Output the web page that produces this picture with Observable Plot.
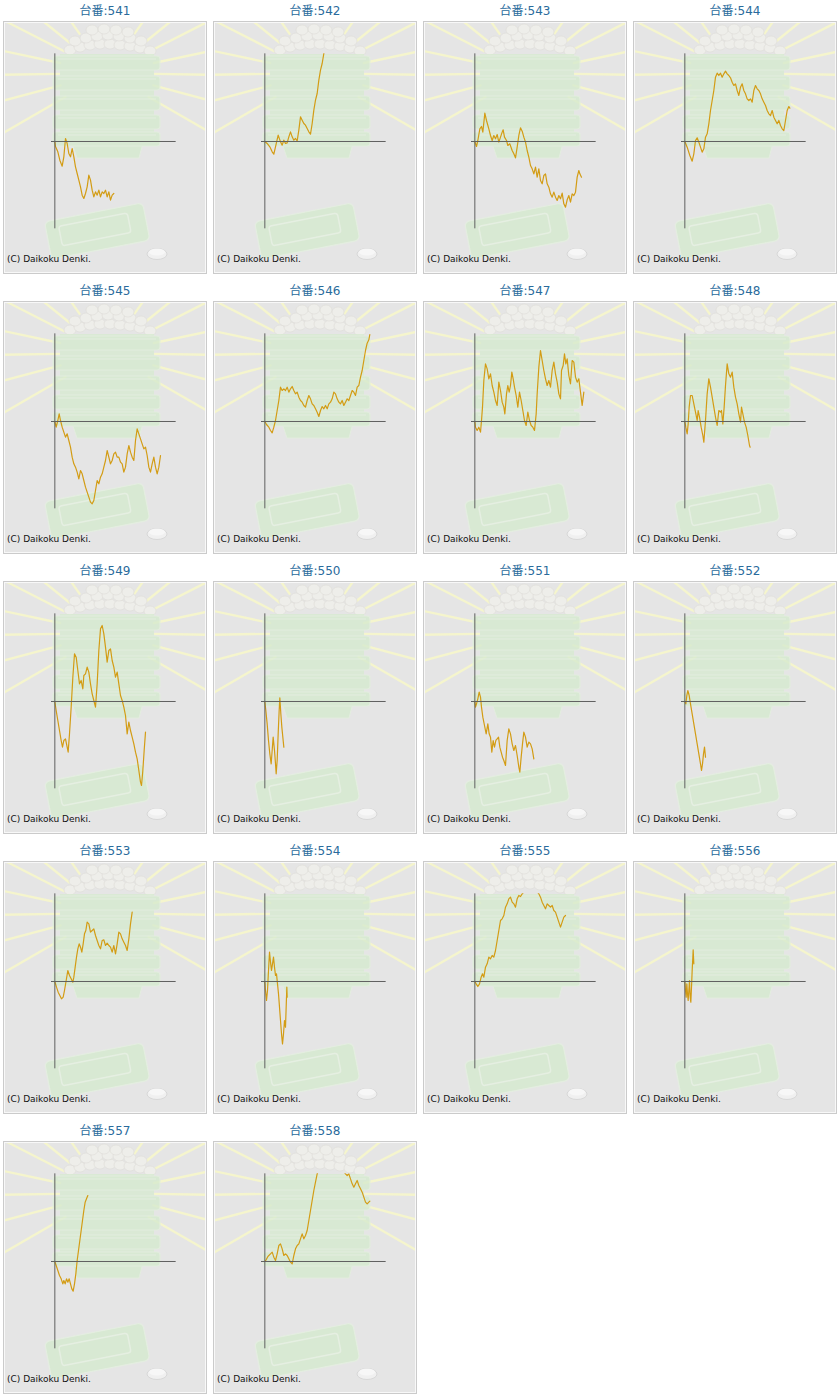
<!DOCTYPE html>
<html><head><meta charset="utf-8">
<script src="https://cdn.jsdelivr.net/npm/d3@7"></script>
<script src="https://cdn.jsdelivr.net/npm/@observablehq/plot@0.6"></script>
<style>
html,body{margin:0;padding:0;background:#fff;}
#grid{display:grid;grid-template-columns:repeat(4,210px);grid-auto-rows:280px;width:840px;}
.panel{position:relative;width:210px;height:280px;}
.title{position:absolute;left:0;top:2px;width:210px;text-align:center;font:12px "DejaVu Sans","Noto Sans CJK JP",sans-serif;color:#2a6b9c;line-height:18px;}
.box{position:absolute;left:3px;top:21px;width:204px;height:253px;background-color:#e5e5e5;background-repeat:no-repeat;box-shadow:inset 0 0 0 1px #cbcbcb, inset 0 0 0 2px #f8f8f8;}
.box svg{position:absolute;left:0;top:0;}
.copy{position:absolute;left:4px;top:233px;font:9px "DejaVu Sans",sans-serif;color:#111;white-space:nowrap;}
</style>
</head><body>
<div id="grid"></div>
<script>
// 台番 (machine numbers)
const machines = ["541","542","543","544","545","546","547","548","549","550","551","552","553","554","555","556","557","558"];

// x: games (relative units), y: coin difference (relative units)
const s541 = [[0,0],[2,-15],[9,-31],[15,-56],[22,-74],[27,-46],[32,9],[37,-6],[42,-36],[47,-46],[52,-21],[57,-46],[62,-76],[67,-96],[72,-116],[77,-136],[82,-161],[87,-171],[92,-156],[97,-136],[102,-101],[107,-116],[112,-146],[117,-166],[122,-151],[127,-161],[132,-146],[137,-166],[142,-151],[147,-156],[152,-146],[157,-166],[162,-151],[167,-176],[172,-161],[177,-156]];
const s542 = [[0,0],[7,-6],[15,-16],[22,-31],[27,-38],[32,-16],[40,19],[47,-1],[52,-11],[57,4],[62,-6],[67,-4],[72,14],[77,29],[82,14],[87,4],[92,9],[97,2],[102,34],[107,74],[112,64],[117,54],[122,49],[127,39],[132,29],[137,22],[142,54],[147,94],[152,124],[157,144],[162,184],[167,214],[172,234],[177,264],[179,275]];
const s543 = [[0,0],[5,-15],[9,3],[15,38],[20,45],[24,28],[30,85],[35,63],[42,38],[47,18],[52,3],[57,18],[62,8],[67,21],[72,-2],[77,13],[82,28],[85,35],[89,13],[95,3],[99,-12],[105,-7],[112,-27],[117,-37],[122,-49],[127,-17],[132,18],[137,41],[142,31],[147,13],[152,-2],[157,-27],[162,-47],[167,-72],[172,-82],[177,-97],[182,-77],[187,-107],[192,-82],[197,-117],[202,-127],[207,-102],[212,-97],[217,-127],[222,-137],[227,-157],[232,-167],[237,-152],[242,-167],[247,-177],[252,-162],[257,-172],[262,-155],[267,-187],[272,-197],[277,-175],[282,-162],[287,-182],[292,-157],[297,-162],[302,-152],[307,-107],[312,-87],[315,-97],[320,-107]];
const s544 = [[0,0],[7,-17],[15,-42],[22,-59],[27,-37],[32,3],[37,11],[42,-2],[47,-17],[52,-32],[57,-22],[62,13],[67,23],[72,53],[77,93],[82,123],[87,153],[92,193],[97,205],[102,198],[107,205],[112,193],[117,203],[122,211],[127,203],[132,198],[137,191],[142,178],[147,168],[152,173],[157,153],[162,138],[167,163],[172,173],[177,153],[182,143],[187,128],[192,123],[197,128],[202,118],[207,153],[212,168],[217,158],[222,153],[227,143],[232,128],[237,118],[242,108],[247,93],[252,83],[257,78],[262,93],[267,73],[272,63],[277,53],[282,63],[287,48],[292,38],[297,33],[302,63],[307,93],[312,105],[315,100]];
const s545 = [[0,0],[4,-17],[9,3],[13,23],[17,3],[22,-17],[27,-32],[32,-47],[37,-37],[42,-57],[47,-77],[52,-107],[57,-127],[62,-137],[67,-152],[72,-172],[77,-147],[82,-157],[87,-177],[92,-197],[97,-212],[102,-227],[107,-242],[112,-247],[117,-237],[122,-207],[127,-177],[132,-187],[137,-167],[142,-157],[147,-137],[152,-117],[157,-87],[162,-107],[167,-127],[172,-117],[177,-97],[182,-92],[187,-107],[192,-107],[197,-122],[202,-127],[207,-152],[212,-137],[217,-97],[222,-72],[227,-92],[232,-107],[237,-117],[242,-57],[247,-22],[252,-37],[257,-52],[262,-67],[267,-82],[272,-77],[277,-102],[282,-137],[287,-152],[292,-127],[297,-107],[302,-137],[307,-157],[312,-137],[317,-102]];
const s546 = [[0,0],[5,-9],[12,-17],[17,-27],[22,-34],[27,-17],[32,3],[37,33],[42,63],[47,103],[52,93],[57,98],[62,93],[67,103],[72,88],[77,98],[82,105],[87,93],[92,83],[97,88],[102,73],[107,63],[112,58],[117,48],[122,43],[127,63],[132,78],[137,68],[142,53],[147,48],[152,38],[157,28],[162,15],[167,33],[172,45],[177,38],[182,48],[187,38],[192,53],[197,58],[202,68],[207,88],[212,83],[217,68],[222,58],[227,53],[232,63],[237,48],[242,58],[247,68],[252,63],[257,78],[262,93],[267,88],[272,78],[277,103],[282,108],[287,133],[292,153],[297,183],[302,213],[307,235],[312,245],[315,261]];
const s547 = [[0,0],[2,-17],[7,-27],[12,-17],[17,-32],[20,3],[23,43],[27,123],[32,173],[37,158],[42,128],[47,143],[52,108],[57,88],[62,63],[67,48],[72,118],[77,93],[82,58],[87,43],[90,23],[95,83],[99,108],[103,88],[107,108],[111,148],[115,128],[119,103],[124,78],[129,43],[134,88],[139,63],[144,33],[149,3],[154,-12],[159,28],[164,3],[169,-12],[174,-17],[179,-27],[184,23],[187,83],[192,163],[197,213],[202,183],[207,153],[212,128],[217,108],[222,123],[227,103],[232,153],[237,178],[242,143],[247,118],[252,83],[257,68],[260,153],[265,168],[269,203],[273,173],[277,188],[282,138],[287,113],[292,183],[297,178],[302,133],[307,118],[312,128],[317,88],[322,48],[327,88]];
const s548 = [[0,0],[3,-17],[7,-37],[10,-7],[13,43],[17,78],[22,78],[27,53],[32,28],[37,3],[40,33],[44,13],[49,-17],[54,-42],[57,-62],[62,3],[67,83],[72,128],[77,103],[82,73],[87,43],[92,13],[97,-12],[102,33],[107,28],[110,33],[114,-7],[118,43],[122,108],[127,173],[132,143],[137,133],[142,148],[147,103],[152,73],[157,53],[162,23],[167,-2],[170,43],[174,23],[179,-2],[184,-17],[189,-42],[194,-72],[196,-77]];
const s549 = [[0,0],[4,-27],[9,-57],[14,-87],[19,-117],[23,-137],[27,-117],[32,-112],[37,-137],[40,-152],[44,-97],[49,-17],[54,73],[59,143],[64,133],[69,93],[74,53],[79,63],[84,38],[87,78],[92,83],[97,103],[102,88],[107,53],[112,23],[117,3],[122,-17],[127,53],[132,153],[137,218],[142,228],[147,203],[152,163],[157,118],[162,153],[167,158],[172,123],[177,103],[182,73],[187,88],[192,53],[197,18],[202,3],[207,-17],[212,-42],[217,-97],[222,-62],[227,-87],[232,-107],[237,-127],[242,-152],[247,-172],[252,-207],[257,-242],[260,-252],[264,-207],[268,-147],[272,-92]];
const s550 = [[0,0],[3,-27],[7,-67],[11,-117],[15,-157],[19,-187],[22,-147],[25,-107],[29,-147],[32,-187],[34,-217],[37,-177],[40,-97],[43,-27],[45,11],[48,-37],[51,-77],[55,-117],[57,-137]];
const s551 = [[0,0],[2,-17],[5,-7],[9,8],[13,28],[17,13],[20,-17],[24,-47],[29,-72],[34,-97],[39,-67],[43,-97],[47,-107],[51,-152],[55,-117],[59,-137],[63,-117],[67,-112],[71,-107],[75,-137],[79,-152],[83,-167],[87,-177],[92,-192],[97,-117],[102,-82],[107,-97],[112,-127],[117,-147],[122,-132],[127,-162],[132,-197],[135,-212],[139,-167],[143,-127],[147,-92],[152,-107],[157,-137],[162,-122],[167,-127],[172,-142],[177,-172]];
const s552 = [[0,0],[3,-7],[6,18],[9,33],[13,18],[17,-7],[22,-37],[27,-67],[32,-97],[37,-127],[42,-157],[47,-187],[50,-207],[53,-187],[56,-157],[59,-137],[62,-167]];
const s553 = [[0,0],[5,-17],[10,-32],[15,-42],[20,-52],[25,-47],[29,-27],[34,3],[39,33],[44,18],[49,8],[54,-2],[57,13],[61,43],[65,73],[69,98],[73,113],[77,103],[81,88],[85,113],[89,143],[93,153],[97,178],[102,173],[107,148],[112,153],[117,158],[122,138],[127,123],[132,108],[137,98],[142,123],[147,125],[152,108],[157,115],[162,108],[167,103],[172,88],[177,108],[182,83],[187,113],[192,148],[197,143],[202,128],[207,118],[212,108],[217,93],[222,128],[227,173],[232,208]];
const s554 = [[0,0],[2,-27],[5,-57],[8,-27],[11,33],[14,88],[17,58],[20,33],[23,53],[26,73],[29,43],[32,18],[35,23],[38,-7],[41,-37],[44,-77],[47,-117],[50,-157],[53,-187],[56,-157],[59,-117],[62,-137],[64,-77],[66,-17],[67,-47]];
const s555 = [[0,0],[4,-7],[9,-15],[14,-7],[19,13],[23,23],[27,13],[32,43],[37,53],[42,73],[47,68],[52,78],[57,73],[62,93],[67,123],[72,153],[77,183],[82,188],[87,198],[92,223],[97,233],[102,248],[107,253],[112,238],[117,233],[122,223],[127,248],[132,258],[137,255],[142,263],[147,268],[155,278],[165,288],[175,282],[185,272],[192,263],[197,253],[202,238],[207,228],[212,218],[217,233],[222,228],[227,223],[232,228],[237,213],[242,208],[247,193],[252,178],[257,163],[262,178],[267,193],[272,198]];
const s556 = [[0,0],[2,-27],[4,-47],[6,-7],[8,-37],[10,-57],[12,-27],[14,3],[16,-47],[18,-62],[20,-17],[22,33],[24,73],[25,95],[27,53]];
const s557 = [[0,0],[4,-12],[9,-27],[14,-42],[19,-52],[24,-67],[27,-57],[31,-67],[35,-52],[39,-62],[43,-52],[47,-67],[51,-82],[55,-89],[59,-67],[63,-37],[67,3],[71,33],[75,63],[79,93],[83,123],[87,153],[91,178],[95,188],[99,198]];
const s558 = [[0,0],[4,5],[8,13],[12,18],[17,23],[22,28],[27,13],[32,3],[37,23],[42,48],[47,53],[52,38],[57,18],[62,23],[67,18],[72,8],[77,-2],[82,-7],[87,18],[92,38],[97,48],[102,53],[107,68],[112,83],[117,68],[122,78],[127,93],[132,123],[137,153],[142,183],[147,213],[152,238],[157,263],[167,285],[182,300],[197,310],[212,305],[227,290],[237,270],[242,263],[247,258],[252,263],[257,248],[262,233],[267,223],[272,233],[277,243],[282,228],[287,218],[292,208],[297,193],[302,178],[307,173],[312,178],[315,181]];

const series = [s541,s542,s543,s544,s545,s546,s547,s548,s549,s550,s551,s552,s553,s554,s555,s556,s557,s558];
const xDomain = [-10, 364];
const yDomain = [-262, 263];

// decorative background picture (pachinko tray motif)
function backgroundSvg() {
  const cx = 107, cy = 73;
  const angles = [-153,-141,-125,-168,179,165,150,-27,-39,-55,-12,1,15,30];
  let rays = "";
  for (const a of angles) {
    const r = a * Math.PI / 180;
    rays += `<line x1="${cx + 48*Math.cos(r)}" y1="${cy + 48*Math.sin(r)}" x2="${cx + 160*Math.cos(r)}" y2="${cy + 160*Math.sin(r)}" stroke="#f5f5cd" stroke-width="2.4" stroke-linecap="round"/>`;
  }
  let balls = "";
  const bx = [70,80,90,100,110,120,130,140,150,75,86,97,108,119,130,141,92,104,116,128];
  const by = [50,47,45,44,44,45,46,48,51,41,38,36,35,36,38,41,30,29,30,32];
  for (let i = 0; i < bx.length; i++) balls += `<ellipse cx="${bx[i]}" cy="${by[i]}" rx="6" ry="5" fill="#eeeeea" stroke="#dedcd6" stroke-width="0.6"/>`;
  let tiers = "";
  for (const ty of [56, 76, 96, 115, 132]) {
    tiers += `<rect x="53" y="${ty}" width="107" height="14" rx="3" fill="#d6eacf" stroke="#e2efdd" stroke-width="1.2"/>`;
    tiers += `<line x1="58" y1="${ty+3}" x2="156" y2="${ty+3}" stroke="#e4f0e0" stroke-width="1"/>`;
  }
  const svg = `<svg xmlns="http://www.w3.org/2000/svg" width="204" height="253"><g transform="translate(-3,-21)">
    ${rays}
    ${balls}
    <g opacity="0.8">
    <rect x="60" y="54" width="94" height="92" fill="#d8ebd2"/>
    <polygon points="72,143 143,143 139,158 77,158" fill="#d6eacf" stroke="#e2efdd"/>
    ${tiers}
    <g transform="rotate(-11 97 230)">
      <rect x="47" y="212" width="100" height="38" rx="5" fill="#d6eacf" stroke="#e4f0e0" stroke-width="1.2"/>
      <rect x="60" y="219" width="70" height="20" rx="3" fill="none" stroke="#e6f2e2" stroke-width="1.5"/>
    </g>
    </g>
    <ellipse cx="157" cy="254" rx="10" ry="5.5" fill="#f0f0f0" stroke="#d2d2d2" stroke-width="0.8"/>
    <ellipse cx="157" cy="252" rx="8" ry="3.5" fill="#f7f7f7"/>
  </g></svg>`;
  return `url("data:image/svg+xml;utf8,${encodeURIComponent(svg)}")`;
}
const bg = backgroundSvg();

const grid = document.getElementById("grid");
series.forEach((data, i) => {
  const panel = document.createElement("div");
  panel.className = "panel";
  const title = document.createElement("div");
  title.className = "title";
  title.textContent = "台番:" + machines[i];
  panel.appendChild(title);
  const box = document.createElement("div");
  box.className = "box";
  box.style.backgroundImage = bg;
  const chart = Plot.plot({
    width: 204, height: 253,
    marginLeft: 48, marginRight: 31.33, marginTop: 32.33, marginBottom: 45.67,
    x: {domain: xDomain, axis: null},
    y: {domain: yDomain, axis: null},
    style: {background: "transparent", overflow: "visible"},
    marks: [
      Plot.line(data, {x: d => d[0], y: d => d[1], stroke: "#d39c14", strokeWidth: 1.2, clip: true}),
      Plot.ruleY([0], {stroke: "#606060", strokeWidth: 1}),
      Plot.ruleX([0], {stroke: "#606060", strokeWidth: 1})
    ]
  });
  box.appendChild(chart);
  const copy = document.createElement("div");
  copy.className = "copy";
  copy.textContent = "(C) Daikoku Denki.";
  box.appendChild(copy);
  panel.appendChild(box);
  grid.appendChild(panel);
});
</script>
</body></html>
